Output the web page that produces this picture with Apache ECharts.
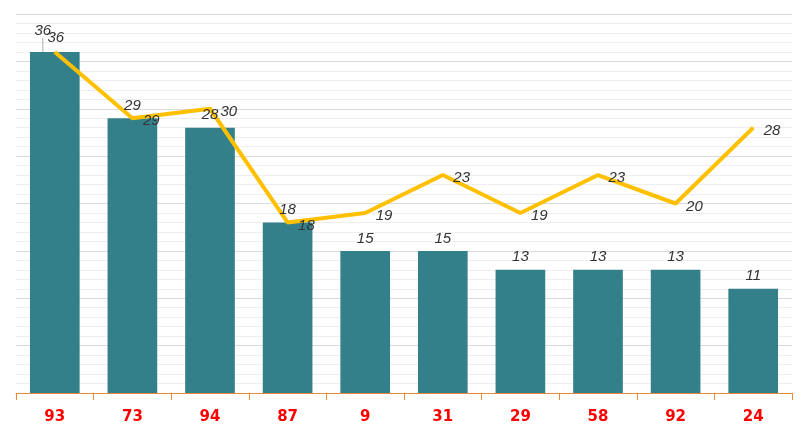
<!DOCTYPE html>
<html><head><meta charset="utf-8">
<script src="https://cdn.jsdelivr.net/npm/echarts@6/dist/echarts.min.js"></script>
<style>html,body{margin:0;padding:0;background:#fff}#c{width:807px;height:438px}</style>
</head><body><div id="c"></div>
<script>
var categories = ['93','73','94','87','9','31','29','58','92','24'];
var barValues = [36,29,28,18,15,15,13,13,13,11];
var lineValues = [36,29,30,18,19,23,19,23,20,28];

var chart = echarts.init(document.getElementById('c'), null, {renderer:'canvas'});
var labelFont = {fontStyle:'italic', fontSize:15, color:'#333', fontFamily:'"Liberation Sans", Arial, sans-serif'};
chart.setOption({
  animation:false,
  grid:{left:16,right:15,top:14,bottom:45,containLabel:false},
  xAxis:{type:'category',data:categories,boundaryGap:true,
    axisLine:{lineStyle:{color:'#e8893a',width:1}},
    axisTick:{show:true,length:7,lineStyle:{color:'#e8893a'}},
    axisLabel:{color:'#ff0000',fontWeight:'bold',fontSize:15,margin:17,fontFamily:'DejaVu Sans, sans-serif'}},
  yAxis:{type:'value',min:0,max:40,interval:5,
    axisLabel:{show:false},axisLine:{show:false},axisTick:{show:false},
    splitLine:{lineStyle:{color:'#dadada',width:1}},
    minorTick:{show:false,splitNumber:5},
    minorSplitLine:{show:true,lineStyle:{color:'#eeeeee',width:1}}},
  series:[
    {type:'bar',z:2,data:barValues,
     barWidth:'64%',itemStyle:{color:'#33808b'},
     label:{show:false}},
    {type:'line',z:3,data:lineValues.map(function(v,i){
        var d={value:v};
        if(i===0){d.label={position:'top',offset:[1,4]};}
        return d;}),
     showSymbol:true,symbol:'circle',symbolSize:1,
     itemStyle:{color:'#ffc000'},
     lineStyle:{color:'#ffc000',width:4},
     label:Object.assign({show:true,position:'right',distance:10,offset:[0,3]},labelFont)},
    {type:'bar',z:4,barGap:'-100%',data:barValues.map(function(v,i){
        var d={value:v};
        if(i===0){d.labelLine={show:true};}
        return d;}),
     barWidth:'64%',itemStyle:{color:'rgba(0,0,0,0)'},
     silent:true,
     label:Object.assign({show:true,position:'top',distance:5},labelFont),
     labelLine:{show:false,lineStyle:{color:'#b0b0b0',width:1}},
     labelLayout:function(p){ if(p.dataIndex===0){return {dx:-12,dy:-9};} return {}; }}
  ]
});
</script></body></html>
